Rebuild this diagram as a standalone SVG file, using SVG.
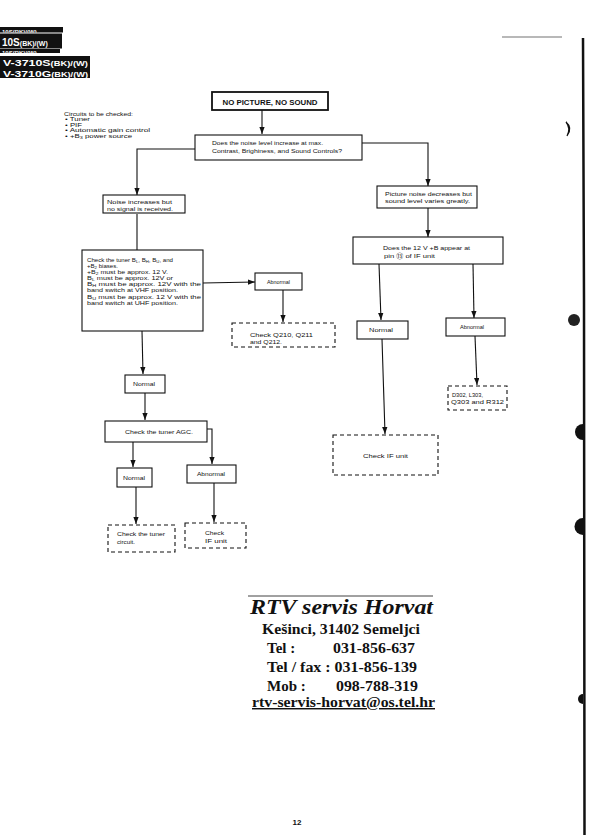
<svg xmlns="http://www.w3.org/2000/svg" width="590" height="835" viewBox="0 0 590 835">
<style>
.bx{fill:#fff;stroke:#111;stroke-width:1.1}
.dbx{fill:#fff;stroke:#111;stroke-width:1.1;stroke-dasharray:4 3}
.t{font-family:"Liberation Sans",Arial,sans-serif;font-size:6px;fill:#111}
.tc{font-family:"Liberation Sans",Arial,sans-serif;font-size:6px;fill:#111;text-anchor:middle}
.c{fill:none;stroke:#111;stroke-width:1.1}
.st{font-family:"Liberation Serif","Times New Roman",serif;font-weight:bold;fill:#111}
.hd{font-family:"Liberation Sans",Arial,sans-serif;font-weight:bold;fill:#fff}
.sb{font-size:4.2px}
</style>
<defs>
<marker id="ah" viewBox="0 0 8 6" refX="8" refY="3" markerWidth="7.5" markerHeight="5.5" markerUnits="userSpaceOnUse" orient="auto">
<path d="M0,0 L8,3 L0,6 z" fill="#111"/>
</marker>
<clipPath id="cpTop"><rect x="0" y="27" width="63" height="5.5"/></clipPath>
<clipPath id="cpBot"><rect x="0" y="49" width="60" height="4"/></clipPath>
</defs>
<rect width="590" height="835" fill="#fff"/>

<g id="header">
<rect x="0" y="27" width="63" height="5.5" fill="#111"/>
<g clip-path="url(#cpTop)">
<text class="hd" x="2" y="33.5" font-size="6">10S(BK)/(W)</text>
</g>
<rect x="0" y="33.5" width="62" height="15" fill="#111"/>
<text class="hd" x="2" y="46" font-size="10">10S<tspan font-size="7">(BK)/(W)</tspan></text>
<rect x="0" y="49" width="60" height="4" fill="#111"/>
<g clip-path="url(#cpBot)">
<text class="hd" x="2" y="55.2" font-size="6">10S(BK)/(W)</text>
</g>
<rect x="0" y="56" width="90" height="22" fill="#111"/>
<text class="hd" x="3" y="66" font-size="9.3" textLength="85" lengthAdjust="spacingAndGlyphs">V-3710S<tspan font-size="7">(BK)/(W)</tspan></text>
<text class="hd" x="3" y="76.6" font-size="9.3" textLength="85" lengthAdjust="spacingAndGlyphs">V-3710G<tspan font-size="7">(BK)/(W)</tspan></text>
</g>

<g id="circuits">
<text class="t" x="64" y="115.5" textLength="69" lengthAdjust="spacingAndGlyphs">Circuits to be checked:</text>
<text class="t" x="65" y="121" textLength="25" lengthAdjust="spacingAndGlyphs">• Tuner</text>
<text class="t" x="65" y="126.5" textLength="17" lengthAdjust="spacingAndGlyphs">• PIF</text>
<text class="t" x="65" y="132" textLength="85" lengthAdjust="spacingAndGlyphs">• Automatic gain control</text>
<text class="t" x="65" y="137.5" textLength="67" lengthAdjust="spacingAndGlyphs">• +B<tspan class="sb" dy="1">3</tspan><tspan dy="-1"> power source</tspan></text>
</g>

<g id="connectors">
<path class="c" d="M262,110 V134" marker-end="url(#ah)"/>
<path class="c" d="M195,149 H137 V195" marker-end="url(#ah)"/>
<path class="c" d="M362,143 H428 V186" marker-end="url(#ah)"/>
<path class="c" d="M137,214 V250"/>
<path class="c" d="M428,208 V237" marker-end="url(#ah)"/>
<path class="c" d="M379,264 L381,320" marker-end="url(#ah)"/>
<path class="c" d="M473,264 L474,318" marker-end="url(#ah)"/>
<path class="c" d="M475,336 L477,385" marker-end="url(#ah)"/>
<path class="c" d="M382,339 L385,434" marker-end="url(#ah)"/>
<path class="c" d="M203,283 L255,282" marker-end="url(#ah)"/>
<path class="c" d="M283,290 V322" marker-end="url(#ah)"/>
<path class="c" d="M142,331 L143,374" marker-end="url(#ah)"/>
<path class="c" d="M145,393 V420" marker-end="url(#ah)"/>
<path class="c" d="M133,442 V467" marker-end="url(#ah)"/>
<path class="c" d="M207,429 H212 V464" marker-end="url(#ah)"/>
<path class="c" d="M136,487 V524" marker-end="url(#ah)"/>
<path class="c" d="M214,483 V522" marker-end="url(#ah)"/>
</g>

<g id="n_start">
<rect x="212" y="92" width="116" height="18" fill="#fff" stroke="#111" stroke-width="1.8"/>
<text x="270" y="104.5" font-family="Liberation Sans,Arial,sans-serif" font-weight="bold" font-size="7.6" text-anchor="middle" fill="#111" textLength="95" lengthAdjust="spacingAndGlyphs">NO PICTURE, NO SOUND</text>
</g>

<g id="n_question">
<rect class="bx" x="195" y="135" width="167" height="25"/>
<text class="t" x="212" y="145" textLength="111" lengthAdjust="spacingAndGlyphs">Does the noise level increase at max.</text>
<text class="t" x="212" y="152.5" textLength="130" lengthAdjust="spacingAndGlyphs">Contrast, Brighiness, and Sound Controls?</text>
</g>

<g id="n_noise_inc">
<rect class="bx" x="103" y="195" width="82" height="18"/>
<text class="t" x="107" y="203.5" textLength="65" lengthAdjust="spacingAndGlyphs">Noise increases but</text>
<text class="t" x="107" y="210.5" textLength="66" lengthAdjust="spacingAndGlyphs">no signal is received.</text>
</g>

<g id="n_pic_dec">
<rect class="bx" x="377" y="186" width="100" height="22"/>
<text class="t" x="385" y="195.5" textLength="87" lengthAdjust="spacingAndGlyphs">Picture noise decreases but</text>
<text class="t" x="385" y="202.5" textLength="85" lengthAdjust="spacingAndGlyphs">sound level varies greatly.</text>
</g>

<g id="n_12v">
<rect class="bx" x="353" y="237" width="150" height="27"/>
<text class="t" x="383" y="250" textLength="87" lengthAdjust="spacingAndGlyphs">Does the 12 V +B appear at</text>
<text class="t" x="384" y="257.5" textLength="51" lengthAdjust="spacingAndGlyphs">pin <tspan font-family="DejaVu Sans,Noto Sans CJK JP,sans-serif" font-size="5.5">⑬</tspan> of IF unit</text>
</g>

<g id="n_normal_r">
<rect class="bx" x="357" y="321" width="51" height="18"/>
<text class="tc" x="381" y="332" textLength="24" lengthAdjust="spacingAndGlyphs">Normal</text>
</g>

<g id="n_abnormal_r">
<rect class="bx" x="446" y="318" width="59" height="18"/>
<text class="tc" x="472" y="329" textLength="24" lengthAdjust="spacingAndGlyphs">Abnormal</text>
</g>

<g id="n_d302">
<rect class="dbx" x="448" y="386" width="59" height="24"/>
<text class="t" x="452" y="397" textLength="31" lengthAdjust="spacingAndGlyphs">D302, L303,</text>
<text class="t" x="451" y="404" textLength="53" lengthAdjust="spacingAndGlyphs">Q303 and R312</text>
</g>

<g id="n_check_if_r">
<rect class="dbx" x="333" y="435" width="105" height="40"/>
<text class="t" x="363" y="458" textLength="45" lengthAdjust="spacingAndGlyphs">Check IF unit</text>
</g>

<g id="n_tuner_bias">
<rect class="bx" x="82" y="250" width="121" height="81"/>
<text class="t" x="87" y="262" textLength="86" lengthAdjust="spacingAndGlyphs">Check the tuner B<tspan class="sb" dy="1">L</tspan><tspan dy="-1">, B</tspan><tspan class="sb" dy="1">H</tspan><tspan dy="-1">, B</tspan><tspan class="sb" dy="1">U</tspan><tspan dy="-1">, and</tspan></text>
<text class="t" x="87" y="268" textLength="31" lengthAdjust="spacingAndGlyphs">+B<tspan class="sb" dy="1">2</tspan><tspan dy="-1"> biases.</tspan></text>
<text class="t" x="87" y="274" textLength="81" lengthAdjust="spacingAndGlyphs">+B<tspan class="sb" dy="1">2</tspan><tspan dy="-1"> must be approx. 12 V.</tspan></text>
<text class="t" x="87" y="280" textLength="86" lengthAdjust="spacingAndGlyphs">B<tspan class="sb" dy="1">L</tspan><tspan dy="-1"> must be approx. 12V or</tspan></text>
<text class="t" x="87" y="286" textLength="114" lengthAdjust="spacingAndGlyphs">B<tspan class="sb" dy="1">H</tspan><tspan dy="-1"> must be approx. 12V with the</tspan></text>
<text class="t" x="87" y="292" textLength="91" lengthAdjust="spacingAndGlyphs">band switch at VHF position.</text>
<text class="t" x="87" y="298.5" textLength="114" lengthAdjust="spacingAndGlyphs">B<tspan class="sb" dy="1">U</tspan><tspan dy="-1"> must be approx. 12 V with the</tspan></text>
<text class="t" x="87" y="304.5" textLength="91" lengthAdjust="spacingAndGlyphs">band switch at UHF position.</text>
</g>

<g id="n_abnormal_l">
<rect class="bx" x="255" y="273" width="47" height="17"/>
<text class="tc" x="278.5" y="283.5" textLength="23" lengthAdjust="spacingAndGlyphs">Abnormal</text>
</g>

<g id="n_check_q210">
<rect class="dbx" x="232" y="323" width="103" height="24"/>
<text class="t" x="250" y="337" textLength="63" lengthAdjust="spacingAndGlyphs">Check Q210, Q211</text>
<text class="t" x="250" y="344" textLength="32" lengthAdjust="spacingAndGlyphs">and Q212.</text>
</g>

<g id="n_normal_l">
<rect class="bx" x="125" y="375" width="40" height="18"/>
<text class="tc" x="144" y="386" textLength="22" lengthAdjust="spacingAndGlyphs">Normal</text>
</g>

<g id="n_agc">
<rect class="bx" x="105" y="421" width="102" height="21"/>
<text class="tc" x="159" y="433.5" textLength="68" lengthAdjust="spacingAndGlyphs">Check the tuner AGC.</text>
</g>

<g id="n_normal_agc">
<rect class="bx" x="117" y="468" width="35" height="19"/>
<text class="tc" x="134" y="479.5" textLength="22" lengthAdjust="spacingAndGlyphs">Normal</text>
</g>

<g id="n_abnormal_agc">
<rect class="bx" x="187" y="465" width="49" height="18"/>
<text class="tc" x="211" y="476" textLength="28" lengthAdjust="spacingAndGlyphs">Abnormal</text>
</g>

<g id="n_check_tuner">
<rect class="dbx" x="108" y="525" width="67" height="27"/>
<text class="t" x="117" y="536" textLength="48" lengthAdjust="spacingAndGlyphs">Check the tuner</text>
<text class="t" x="117" y="544" textLength="18" lengthAdjust="spacingAndGlyphs">circuit.</text>
</g>

<g id="n_check_if_l">
<rect class="dbx" x="185" y="523" width="61" height="25"/>
<text class="t" x="205" y="534.5" textLength="19" lengthAdjust="spacingAndGlyphs">Check</text>
<text class="t" x="205" y="542.5" textLength="22" lengthAdjust="spacingAndGlyphs">IF unit</text>
</g>

<g id="stamp">
<line x1="248" y1="596" x2="433" y2="596" stroke="#111" stroke-width="0.8"/>
<text class="st" x="250" y="614" font-size="21" font-style="italic" textLength="183" lengthAdjust="spacingAndGlyphs">RTV servis Horvat</text>
<text class="st" x="262" y="634" font-size="15" textLength="158" lengthAdjust="spacingAndGlyphs">Kešinci, 31402 Semeljci</text>
<text class="st" x="267" y="653" font-size="15">Tel :</text>
<text class="st" x="333" y="653" font-size="15" textLength="82" lengthAdjust="spacingAndGlyphs">031-856-637</text>
<text class="st" x="267" y="672" font-size="15" textLength="150" lengthAdjust="spacingAndGlyphs">Tel / fax : 031-856-139</text>
<text class="st" x="267" y="691" font-size="15">Mob :</text>
<text class="st" x="336" y="691" font-size="15" textLength="82" lengthAdjust="spacingAndGlyphs">098-788-319</text>
<text class="st" x="252" y="707" font-size="14.5" text-decoration="underline" textLength="183" lengthAdjust="spacingAndGlyphs">rtv-servis-horvat@os.tel.hr</text>
</g>

<g id="page_marks">
<line x1="502" y1="37" x2="562" y2="37" stroke="#333" stroke-width="0.7"/>
<path d="M583,38 L584,300 L584.5,835" fill="none" stroke="#111" stroke-width="2.5"/>
<path d="M566,122 Q573,128 567,136 Q571,128 566,122 z" fill="#111" stroke="#111" stroke-width="1.2"/>
<circle cx="574" cy="320" r="6" fill="#222"/>
<path d="M583,424 A8,8 0 0 0 583,440 z" fill="#111"/>
<path d="M583,518 A8,8 0 0 0 583,535 z" fill="#111"/>
<path d="M583,694 A5,5 0 0 0 583,704 z" fill="#111"/>
<text x="297" y="825" font-family="Liberation Sans,Arial,sans-serif" font-weight="bold" font-size="8" text-anchor="middle" fill="#111">12</text>
</g>
</svg>
